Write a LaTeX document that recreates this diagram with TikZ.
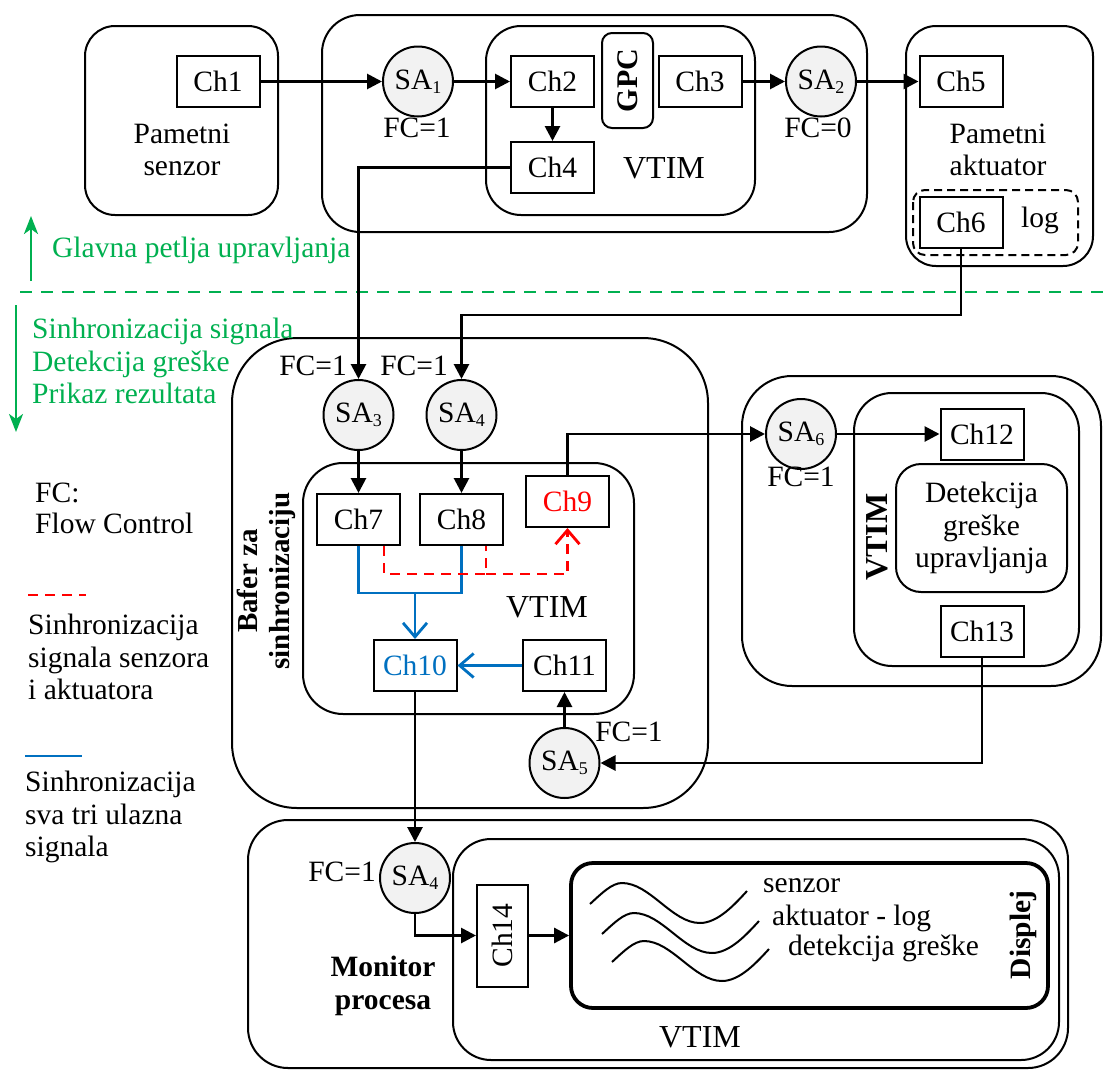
\documentclass[tikz,border=0pt]{standalone}
\usepackage{fontspec}
\setmainfont{Liberation Serif}
\usetikzlibrary{arrows.meta}
\definecolor{ggreen}{HTML}{00B050}
\definecolor{bblue}{HTML}{0070C0}
\definecolor{rred}{HTML}{FF0000}
\definecolor{sagray}{HTML}{F2F2F2}
\newcommand{\subidx}[1]{\raisebox{-0.15em}{\fontsize{18}{18}\selectfont #1}}
\newcommand{\fs}{\fontsize{29.5}{32.5}\selectfont}
\newcommand{\fbig}{\fontsize{32}{34}\selectfont}
\tikzset{
  box/.style={draw, line width=2pt},
  chbox/.style={draw, line width=2pt, minimum width=83pt, minimum height=51pt, inner sep=0pt, font=\fs},
  sa/.style={circle, draw, fill=sagray, line width=2pt, minimum size=70pt, inner sep=0pt, font=\fs},
  arr/.style={line width=2.8pt, -{Triangle[length=15pt,width=15pt]}},
  bluebarb/.style={bblue, line width=2.8pt, -{Straight Barb[length=14pt,width=24pt,line width=2.8pt]}},
  blueline/.style={bblue, line width=2.8pt},
  reddash/.style={rred, line width=2.8pt, dash pattern=on 10pt off 7pt},
  redbarb/.style={rred, line width=2.8pt, dash pattern=on 10pt off 7pt, -{Straight Barb[length=14pt,width=24pt,line width=2.8pt]}},
  lbl/.style={font=\fs, inner sep=0pt},
  greenarr/.style={ggreen, line width=2.6pt, -{Stealth[length=18pt,width=14pt,inset=5pt]}}
}
\begin{document}
\begin{tikzpicture}[x=1pt, y=-1pt]
\useasboundingbox (0,0) rectangle (1103,1071);

% ---------- containers ----------
\draw[box, rounded corners=30pt] (85,26) rectangle (278,215);
\draw[box, rounded corners=38pt] (322,15) rectangle (867,232);
\draw[box, rounded corners=35pt] (486,26) rectangle (755,215);
\draw[box, rounded corners=30pt] (906,26) rectangle (1093,266);
\draw[line width=2pt, dash pattern=on 8pt off 5pt, rounded corners=12pt] (913,190) rectangle (1078,255);
\draw[box, rounded corners=65pt] (232,338) rectangle (708,808);
\draw[box, rounded corners=40pt] (303,463) rectangle (634,714);
\draw[box, rounded corners=50pt] (742,376) rectangle (1101,686);
\draw[box, rounded corners=38pt] (854,393) rectangle (1079,666);
\draw[box, rounded corners=40pt] (248,820) rectangle (1068,1068);
\draw[box, rounded corners=38pt] (453,839) rectangle (1059,1060);

% ---------- top row ----------
\node[chbox] (ch1) at (218,81.5) {Ch1};
\node[lbl, align=center] (psenz) at (182,150) {Pametni\\senzor};
\node[sa] (sa1) at (418,81.5) {SA\subidx{1}};
\node[lbl] (fc1) at (417,128) {FC=1};
\node[chbox] (ch2) at (552.5,81.5) {Ch2};
\node[chbox] (ch4) at (552.5,167.5) {Ch4};
\node[draw, line width=2pt, rounded corners=10pt, minimum width=95pt, minimum height=51pt, inner sep=0pt, rotate=90, font=\bfseries\fontsize{30}{32}\selectfont] (gpc) at (627.5,80.5) {GPC};
\node[chbox] (ch3) at (700,81.5) {Ch3};
\node[lbl, font=\fbig] (vtim1) at (664,168) {VTIM};
\node[sa] (sa2) at (821,81.5) {SA\subidx{2}};
\node[lbl] (fc0) at (818,128) {FC=0};
\node[chbox] (ch5) at (961,81.5) {Ch5};
\node[lbl, align=center] (pakt) at (998,150) {Pametni\\aktuator};
\node[chbox] (ch6) at (961,222) {Ch6};
\node[lbl] (log) at (1040,220) {log};

\draw[arr] (ch1.east) -- (sa1.west);
\draw[arr] (sa1.east) -- (ch2.west);
\draw[arr] (ch2.south) -- (ch4.north);
\draw[arr] (ch3.east) -- (sa2.west);
\draw[arr] (sa2.east) -- (ch5.west);

% ---------- green separators ----------
\coordinate (gu1) at (31,281);
\coordinate (gu2) at (31,216);
\draw[greenarr] (gu1) -- (gu2);
\node[lbl, anchor=west, text=ggreen] (glavna) at (52,250) {Glavna petlja upravljanja};
\coordinate (gd1) at (20,292);
\coordinate (gd2) at (1103,292);
\draw[ggreen, line width=2.6pt, dash pattern=on 12pt off 9pt] (gd1) -- (gd2);
\coordinate (gv1) at (16,305);
\coordinate (gv2) at (16,432);
\draw[greenarr] (gv1) -- (gv2);
\node[lbl, anchor=west, align=left, text=ggreen] (sinh) at (32,361) {Sinhronizacija signala\\Detekcija greške\\Prikaz rezultata};

% ---------- legend ----------
\node[lbl, anchor=west] (fcl1) at (35,493) {FC:};
\node[lbl, anchor=west] (fcl2) at (35,523) {Flow Control};
\coordinate (lr1) at (28,595);
\coordinate (lr2) at (86,595);
\draw[reddash] (lr1) -- (lr2);
\node[lbl, anchor=west, align=left] (leg1) at (28,657) {Sinhronizacija\\signala senzora\\i aktuatora};
\coordinate (lb1) at (25,756);
\coordinate (lb2) at (82,756);
\draw[blueline] (lb1) -- (lb2);
\node[lbl, anchor=west, align=left] (leg2) at (25,817) {Sinhronizacija\\sva tri ulazna\\signala};

% ---------- middle: sync buffer ----------
\node[sa] (sa3) at (358.5,415) {SA\subidx{3}};
\node[sa] (sa4) at (461.5,415) {SA\subidx{4}};
\node[lbl, anchor=east] (fc3) at (347,366) {FC=1};
\node[lbl, anchor=east] (fc4) at (448,366) {FC=1};
\node[chbox] (ch7) at (358.5,519.5) {Ch7};
\node[chbox] (ch8) at (461.5,519.5) {Ch8};
\node[chbox, text=rred] (ch9) at (567.5,501.5) {Ch9};
\node[chbox, text=bblue] (ch10) at (415,665.5) {Ch10};
\node[chbox] (ch11) at (564.5,665.5) {Ch11};
\node[lbl, font=\fbig] (vtim2) at (547,607) {VTIM};
\node[lbl, rotate=90, align=center, font=\bfseries\fontsize{29}{32}\selectfont] (bafer) at (266,581) {Bafer za\\sinhronizaciju};
\node[sa] (sa5) at (564.5,763) {SA\subidx{5}};
\node[lbl] (fc5) at (629,732) {FC=1};

\coordinate (k1) at (961,315);
\draw[arr] (ch4.west) -| (sa3.north);
\draw[arr] (ch6.south) -- (k1) -| (sa4.north);
\draw[arr] (sa3.south) -- (ch7.north);
\draw[arr] (sa4.south) -- (ch8.north);
\draw[arr] (sa5.north) -- (ch11.south);

\coordinate (b1) at (358.5,593);
\coordinate (b2) at (461.5,593);
\coordinate (b3) at (415,593);
\draw[blueline] (ch7.south) -- (b1) -- (b2) -- (ch8.south);
\draw[bluebarb] (b3) -- (ch10.north);
\draw[bluebarb] (ch11.west) -- (ch10.east);

\coordinate (r1) at (384,574);
\coordinate (r2) at (486,574);
\coordinate (r3) at (567.5,574);
\draw[reddash] (ch7.south -| r1) -- (r1) -- (r2) -- (ch8.south -| r2);
\draw[redbarb] (r2) -- (r3) -- (ch9.south);

% ---------- right middle: error detection ----------
\node[sa] (sa6) at (801,434) {SA\subidx{6}};
\node[lbl] (fc6) at (801,477) {FC=1};
\node[chbox] (ch12) at (982,434) {Ch12};
\node[draw, line width=2pt, rounded corners=25pt, minimum width=171pt, minimum height=128pt, align=center, font=\fs, inner sep=0pt] (det) at (981.5,528) {Detekcija\\greške\\upravljanja};
\node[lbl, rotate=90, font=\bfseries\fbig] (vtim3) at (877,537) {VTIM};
\node[chbox] (ch13) at (982,631.5) {Ch13};

\draw[arr] (ch9.north) |- (sa6.west);
\draw[arr] (sa6.east) -- (ch12.west);
\draw[arr] (ch13.south) |- (sa5.east);

% ---------- bottom: process monitor ----------
\node[sa] (bsa4) at (415,878) {SA\subidx{4}};
\node[lbl, anchor=east] (fcb) at (376,872) {FC=1};
\node[lbl, align=center, font=\bfseries\fs] (mon) at (383,986) {Monitor\\procesa};
\node[draw, line width=2pt, minimum width=102pt, minimum height=51pt, inner sep=0pt, rotate=90, font=\fs] (ch14) at (502.5,935.5) {Ch14};
\node[draw, line width=3.8pt, rounded corners=22pt, minimum width=477pt, minimum height=145pt, inner sep=0pt] (disp) at (809.5,935.5) {};
\node[lbl, rotate=90, font=\bfseries\fs] (displej) at (1023,935) {Displej};
\node[lbl, font=\fbig] (vtim4) at (700,1037) {VTIM};
\node[lbl, anchor=west] (tsenz) at (763,886) {senzor};
\node[lbl, anchor=west] (takt) at (772,918) {aktuator - log};
\node[lbl, anchor=west] (tdet) at (788,948) {detekcija greške};

\foreach \sx/\sy in {590/904, 602/934, 612/962}{
  \draw[line width=2pt, shift={(\sx,\sy)}] (0,0) .. controls (12,-11) and (22,-21) .. (32,-21)
     .. controls (60,-21) and (82,19) .. (110,19) .. controls (128,19) and (145,0) .. (157,-13);
}

\draw[arr] (ch10.south) -- (bsa4.north);
\draw[arr] (bsa4.south) |- (ch14.north);
\draw[arr] (ch14.south) -- (disp.west);
\end{tikzpicture}
\end{document}
